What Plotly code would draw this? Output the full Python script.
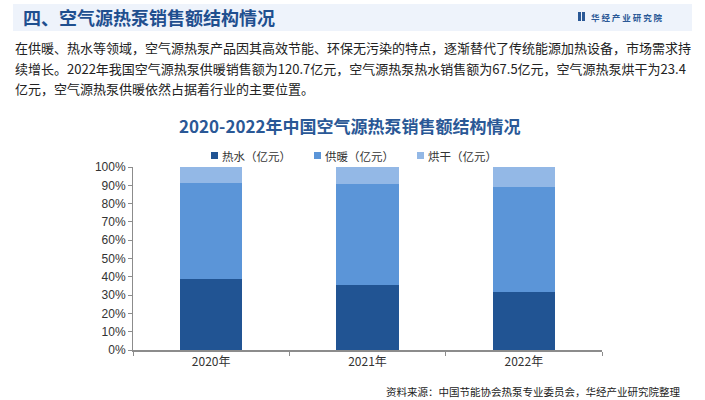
import plotly.graph_objects as go

years = ["2020年", "2021年", "2022年"]
hot_water = [69.4, 72.0, 67.5]      # 热水（亿元）
heating = [92.9, 111.0, 120.7]      # 供暖（亿元）
drying = [15.6, 18.8, 23.4]         # 烘干（亿元）
series_names = ["热水（亿元）", "供暖（亿元）", "烘干（亿元）"]
y_ticks = [0, 10, 20, 30, 40, 50, 60, 70, 80, 90, 100]
y_tick_labels = [f"{v}%" for v in y_ticks]

W, H = 705, 400
L, R, T, B = 133, 103, 167, 50
PW, PH = W - L - R, H - T - B

def px(x):
    return (x - L) / PW

def py(y):
    return (H - B - y) / PH

FONT = "Noto Sans CJK SC"
colors = ["#215493", "#5b95d8", "#93b8e6"]

fig = go.Figure()
for name, vals, c in zip(series_names, [hot_water, heating, drying], colors):
    fig.add_trace(go.Bar(x=years, y=vals, name=name, marker=dict(color=c, line=dict(width=0)),
                         width=0.4))

fig.update_layout(
    width=W, height=H, margin=dict(l=L, r=R, t=T, b=B),
    barmode="stack", barnorm="percent",
    paper_bgcolor="white", plot_bgcolor="white",
    font=dict(family=FONT, size=12, color="#333333"),
    showlegend=False,
    xaxis=dict(showline=True, linecolor="#8c8c8c", linewidth=1.5, ticks="outside",
               tickson="boundaries", tickcolor="#8c8c8c", ticklen=4,
               tickfont=dict(size=12, color="#333333"), showgrid=False),
    yaxis=dict(range=[0, 100], tickvals=y_ticks, ticktext=y_tick_labels, showline=True,
               linecolor="#8c8c8c", linewidth=1, ticks="outside", tickcolor="#8c8c8c",
               ticklen=4, showgrid=False, zeroline=False,
               tickfont=dict(size=12, color="#333333", family="Liberation Sans, Arial")),
)

# header band
fig.add_shape(type="rect", xref="paper", yref="paper", x0=px(13), x1=px(692), y0=py(31), y1=py(4),
              fillcolor="#eef3fb", line=dict(width=0), layer="below")
fig.add_shape(type="rect", xref="paper", yref="paper", x0=px(578), x1=px(581), y0=py(21), y1=py(12),
              fillcolor="#2a5896", line=dict(width=0))
fig.add_shape(type="rect", xref="paper", yref="paper", x0=px(582), x1=px(585), y0=py(21), y1=py(12),
              fillcolor="#2a5896", line=dict(width=0))

ann = []
ann.append(dict(text="<b>四、空气源热泵销售额结构情况</b>", x=px(21), y=py(17), xanchor="left",
                yanchor="middle", font=dict(size=18, color="#1f4f8f", family=FONT)))
ann.append(dict(text="<b>华 经 产 业 研 究 院</b>", x=px(589), y=py(17), xanchor="left",
                yanchor="middle", font=dict(size=8.5, color="#2a5896", family=FONT)))
lines = [
    "在供暖、热水等领域，空气源热泵产品因其高效节能、环保无污染的特点，逐渐替代了传统能源加热设备，市场需求持",
    "续增长。2022年我国空气源热泵供暖销售额为120.7亿元，空气源热泵热水销售额为67.5亿元，空气源热泵烘干为23.4",
    "亿元，空气源热泵供暖依然占据着行业的主要位置。",
]
for i, t in enumerate(lines):
    ann.append(dict(text=t, x=px(13), y=py(48 + 20 * i), xanchor="left", yanchor="middle",
                    font=dict(size=13, color="#222222", family=FONT)))
ann.append(dict(text="<b>2020-2022年中国空气源热泵销售额结构情况</b>", x=px(350), y=py(125),
                xanchor="center", yanchor="middle", font=dict(size=17, color="#2a5896", family=FONT)))
ann.append(dict(text="资料来源：中国节能协会热泵专业委员会，华经产业研究院整理", x=px(682), y=py(391),
                xanchor="right", yanchor="middle", font=dict(size=10.5, color="#222222", family=FONT)))

# legend (manual)
leg_x = [211, 314, 417]
for lx, name, c in zip(leg_x, series_names, colors):
    fig.add_shape(type="rect", xref="paper", yref="paper", x0=px(lx), x1=px(lx + 7),
                  y0=py(159), y1=py(152), fillcolor=c, line=dict(width=0))
    ann.append(dict(text=name, x=px(lx + 9), y=py(155.5), xanchor="left", yanchor="middle",
                    font=dict(size=11.5, color="#333333", family=FONT)))

for a in ann:
    a.update(xref="paper", yref="paper", showarrow=False)
fig.update_layout(annotations=ann)

fig.write_html("out.html")
